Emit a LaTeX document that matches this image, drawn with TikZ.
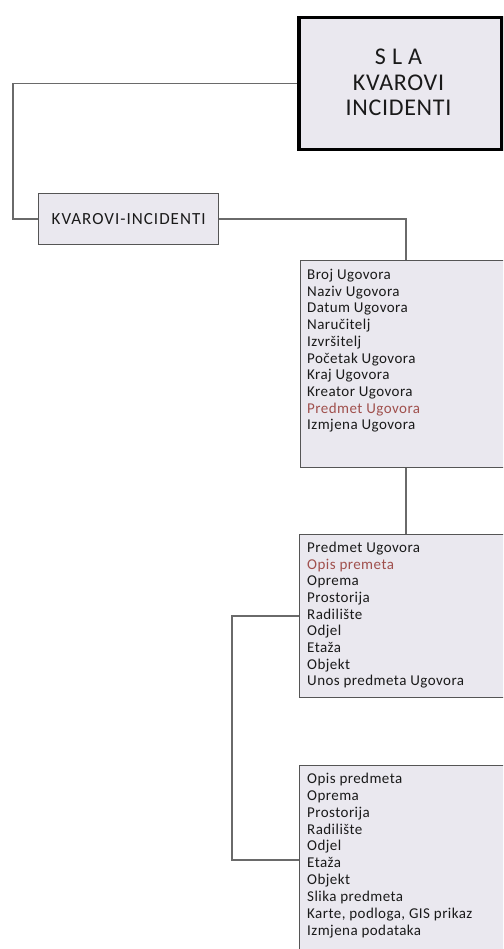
\documentclass[tikz,border=0pt]{standalone}
\usepackage{fontspec}
\setmainfont{Carlito}
\newfontfamily\listfont[LetterSpace=3]{Carlito}
\newfontfamily\labelfont[LetterSpace=6]{Carlito}
\usetikzlibrary{calc}

\definecolor{boxfill}{HTML}{EAE8EF}
\definecolor{boxline}{HTML}{555555}
\definecolor{wireline}{HTML}{6A6A6A}
\definecolor{markred}{HTML}{A0504D}
\definecolor{inktext}{HTML}{1A1A1A}

\tikzset{
  panel/.style={draw=boxline, line width=1.3pt, fill=boxfill, inner sep=0pt},
  headbox/.style={draw=black, line width=3.5pt, fill=boxfill, inner sep=0pt},
  wire/.style={draw=wireline, line width=1.4pt},
  title/.style={inner sep=0pt, anchor=base, font=\listfont\fontsize{24}{25.7}\selectfont, text=inktext},
  entry/.style={anchor=base west, inner sep=0pt, font=\listfont\fontsize{15}{16.7}\selectfont, text=inktext},
  marked/.style={entry, text=markred},
}

\begin{document}
\begin{tikzpicture}[x=1pt, y=-1pt]
  \useasboundingbox (0,0) rectangle (503,949);
  \clip (0,0) rectangle (503,949);

  % title block
  \node[headbox, minimum width=203pt, minimum height=132pt, anchor=north west] (sla) at (297,16) {};
  \node[title] (slaA) at (398.5,64.2) {S L A};
  \node[title] (slaB) at (398.5,90.2) {KVAROVI};
  \node[title] (slaC) at (398.5,115.6) {INCIDENTI};

  % category block
  \node[panel, minimum width=180pt, minimum height=51pt, anchor=north west,
        font=\labelfont\fontsize{17}{18}\selectfont, text=inktext] (kv) at (38,193) {KVAROVI-INCIDENTI};

  % contract data panel
  \node[panel, minimum width=240pt, minimum height=207pt, anchor=north west] (ugovor) at (300,260) {};
  \foreach [count=\i] \t/\s in {Broj Ugovora/entry, Naziv Ugovora/entry, Datum Ugovora/entry,
      Naručitelj/entry, Izvršitelj/entry, Početak Ugovora/entry, Kraj Ugovora/entry,
      Kreator Ugovora/entry, Predmet Ugovora/marked, Izmjena Ugovora/entry}
    \node[\s] (ug-\i) at (307, 279.5+16.7*\i-16.7) {\t};

  % subject panel
  \node[panel, minimum width=240pt, minimum height=163pt, anchor=north west] (predmet) at (299,534) {};
  \foreach [count=\i] \t/\s in {Predmet Ugovora/entry, Opis premeta/marked, Oprema/entry,
      Prostorija/entry, Radilište/entry, Odjel/entry, Etaža/entry, Objekt/entry,
      Unos predmeta Ugovora/entry}
    \node[\s] (pr-\i) at (307, 552.3+16.7*\i-16.7) {\t};

  % description panel
  \node[panel, minimum width=240pt, minimum height=220pt, anchor=north west] (opis) at (299,765) {};
  \foreach [count=\i] \t in {Opis predmeta, Oprema, Prostorija, Radilište, Odjel, Etaža,
      Objekt, Slika predmeta, {Karte, podloga, GIS prikaz}, Izmjena podataka}
    \node[entry] (op-\i) at (307, 783.3+16.9*\i-16.9) {\t};

  % connectors
  \coordinate (leftrail) at (13,0);
  \coordinate (drop) at (406,0);
  \coordinate (siderail) at (232,0);
  \coordinate (tapA) at (299,616);
  \coordinate (tapB) at (299,860);

  \draw[wire] (sla.west) -| (leftrail |- kv.west) -- (kv.west);
  \draw[wire] (kv.east) -| (drop |- ugovor.north);
  \draw[wire] (drop |- ugovor.south) -- (drop |- predmet.north);
  \draw[wire] (tapA) -| (siderail |- tapB) -- (tapB);
\end{tikzpicture}
\end{document}
